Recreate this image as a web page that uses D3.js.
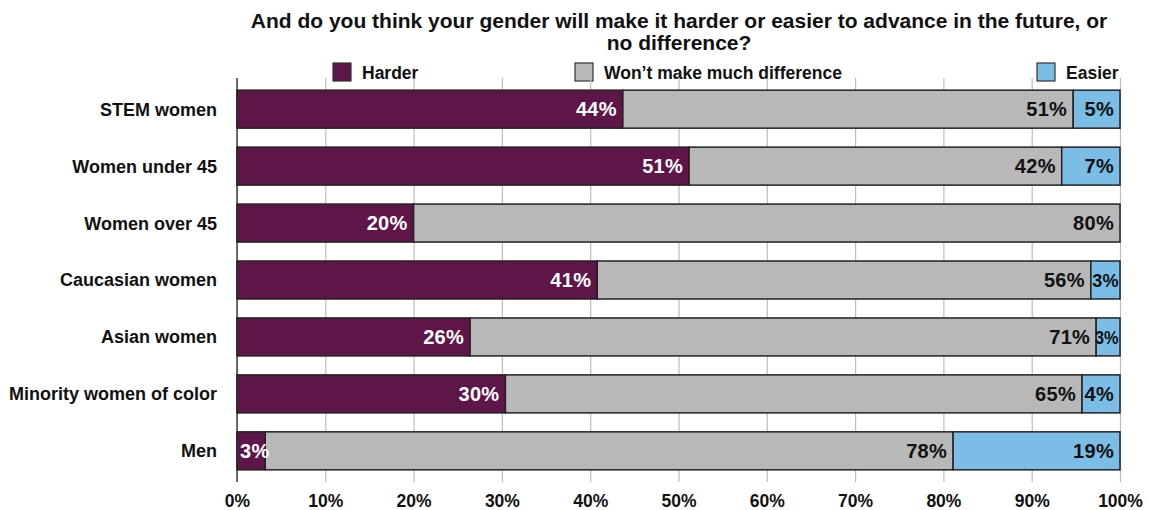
<!DOCTYPE html>
<html><head><meta charset="utf-8">
<script src="https://cdn.jsdelivr.net/npm/d3@7"></script>
<style>body{margin:0;background:#fff;}text{font-family:"Liberation Sans",Arial,Helvetica,sans-serif;font-weight:bold;}</style>
</head><body><svg id="c" width="1149" height="510"></svg>
<script>
const categories = ["STEM women","Women under 45","Women over 45","Caucasian women","Asian women","Minority women of color","Men"];
const harder = [43.7, 51.2, 20.0, 40.8, 26.4, 30.4, 3.2];
const noDiff = [51.0, 42.2, 80.0, 55.9, 70.9, 65.3, 77.9];
const easier = [5.3, 6.6, 0, 3.3, 2.7, 4.3, 18.9];
const seriesNames = ["Harder","Won\u2019t make much difference","Easier"];
const seriesColors = ["#5e1548","#b8b8b8","#7bbde6"];
const labelColors = ["#fff","#111","#111"];
const tickValues = [0,10,20,30,40,50,60,70,80,90,100];
const titleLines = ["And do you think your gender will make it harder or easier to advance in the future, or","no difference?"];

const svg = d3.select("#c");
const m = {left:237, right:1120, top:78, bottom:478};
const x = d3.scaleLinear().domain([0,100]).range([m.left, m.right]);
const y = d3.scaleBand().domain(categories).range([80.5, 479.5]).paddingInner(0.333).paddingOuter(0.17);

// title
svg.append("g").selectAll("text").data(titleLines).join("text")
  .attr("x", 679).attr("y",(d,i)=>28+i*22).attr("text-anchor","middle")
  .attr("font-size",21).attr("fill","#111").text(d=>d);

// legend
const legX = [333, 575, 1037];
const lg = svg.append("g").selectAll("g").data(seriesNames).join("g")
  .attr("transform",(d,i)=>`translate(${legX[i]},63)`);
lg.append("rect").attr("width",18).attr("height",18).attr("fill",(d,i)=>seriesColors[i]).attr("stroke","#333").attr("stroke-width",1.2);
lg.append("text").attr("x",29).attr("y",15.5).attr("font-size",17.5).attr("fill","#111").text(d=>d);

// grid + x axis
const xAxis = d3.axisBottom(x).tickValues(tickValues).tickFormat(d=>d+"%").tickSize(-(m.bottom-m.top)).tickPadding(13);
const ga = svg.append("g").attr("transform",`translate(0,${m.bottom+4})`).call(xAxis);
ga.select(".domain").remove();
ga.selectAll(".tick line").attr("stroke","#bdbdbd").attr("stroke-width",1.2).attr("y2",-(m.bottom+4-m.top));
ga.selectAll(".tick text").attr("font-size",17.5).attr("fill","#111").attr("font-family","'Liberation Sans',Arial,sans-serif").attr("font-weight","bold");
svg.append("line").attr("x1",m.left).attr("x2",m.left).attr("y1",m.top).attr("y2",m.bottom+4).attr("stroke","#444").attr("stroke-width",1.5);

// y axis labels
const yAxis = d3.axisLeft(y).tickSize(0).tickPadding(20);
const gy = svg.append("g").attr("transform",`translate(${m.left},0)`).call(yAxis);
gy.select(".domain").remove();
gy.selectAll("text").attr("font-size",18).attr("dy","0.36em").attr("fill","#111").attr("font-family","'Liberation Sans',Arial,sans-serif").attr("font-weight","bold");

// stacked data
const rows = categories.map((c,i)=>({cat:c, v:[harder[i], noDiff[i], easier[i]]}));
const segs = [];
rows.forEach(r=>{ let acc=0; r.v.forEach((v,s)=>{ segs.push({cat:r.cat, s, x0:acc, x1:acc+v, v}); acc+=v; }); });
const vis = segs.filter(d=>d.v>0);

svg.append("g").selectAll("rect").data(vis).join("rect")
  .attr("x",d=>x(d.x0)).attr("width",d=>x(d.x1)-x(d.x0))
  .attr("y",d=>y(d.cat)).attr("height",y.bandwidth())
  .attr("fill",d=>seriesColors[d.s]).attr("stroke","#222").attr("stroke-width",1.5);

const lab = svg.append("g").selectAll("text").data(vis).join("text")
  .attr("y",d=>y(d.cat)+y.bandwidth()/2+7)
  .attr("font-size",20).attr("letter-spacing",0.3).attr("fill",d=>labelColors[d.s])
  .text(d=>Math.round(d.v)+"%");
lab.each(function(d){
  const w = this.getComputedTextLength();
  const segW = x(d.x1)-x(d.x0);
  const el = d3.select(this);
  if (w+8 <= segW) { el.attr("x", x(d.x1)-6).attr("text-anchor","end"); }
  else if (d.s === 2) {
    el.attr("letter-spacing",0).attr("font-size",19);
    const w2 = this.getComputedTextLength();
    el.attr("x", x(d.x1)-1.5).attr("text-anchor","end")
      .attr("textLength", Math.min(w2, Math.max(w2*0.86, segW-3))).attr("lengthAdjust","spacingAndGlyphs");
  }
  else { el.attr("x", x(d.x0)+3).attr("text-anchor","start"); }
});
</script></body></html>
